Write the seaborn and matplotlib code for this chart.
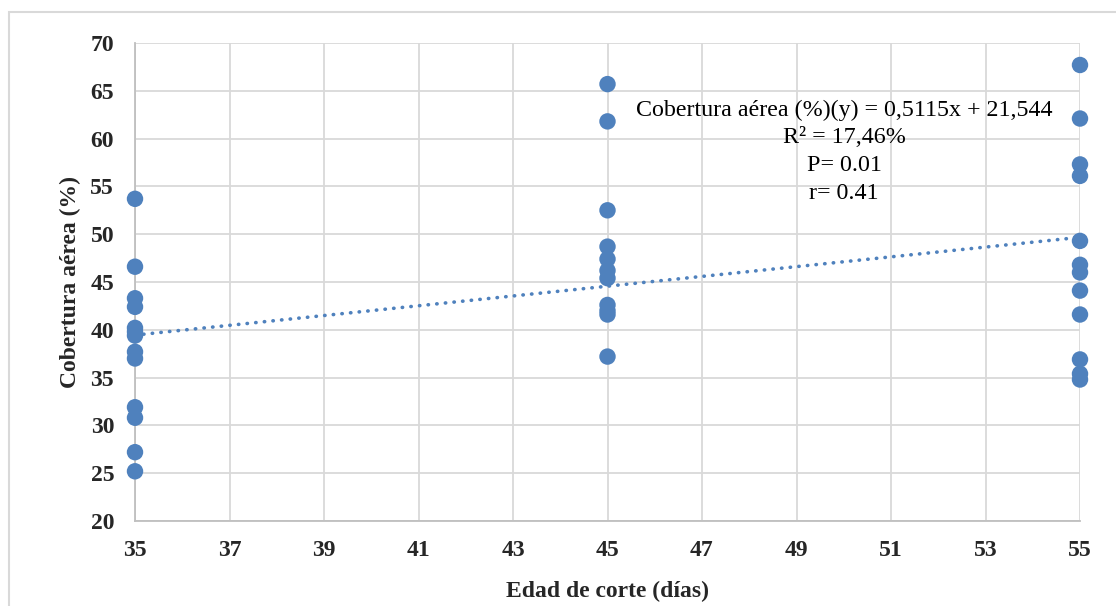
import numpy as np
import pandas as pd
import matplotlib.pyplot as plt
import seaborn as sns
from matplotlib.patches import Rectangle

# valores
edad_35 = [53.7, 46.6, 43.3, 42.4, 40.2, 39.8, 39.4, 37.7, 37.0, 31.9, 30.8, 27.2, 25.2]
edad_45 = [65.7, 61.8, 52.5, 48.7, 47.4, 46.2, 45.4, 42.6, 42.0, 41.6, 37.2]
edad_55 = [67.7, 62.1, 57.3, 56.1, 49.3, 46.8, 46.0, 44.1, 41.6, 36.9, 35.4, 34.8]
pendiente = 0.5115
intercepto = 21.544
x_ticks = list(range(35, 56, 2))
y_ticks = list(range(20, 71, 5))
etiquetas = ["Cobertura aérea (%)(y) = 0,5115x + 21,544", "R² = 17,46%", "P= 0.01", "r= 0.41"]

df = pd.DataFrame({
    'edad': [35] * len(edad_35) + [45] * len(edad_45) + [55] * len(edad_55),
    'cobertura': edad_35 + edad_45 + edad_55,
})
linea = pd.DataFrame({'edad': [35, 55]})
linea['cobertura'] = pendiente * linea['edad'] + intercepto

sns.set_theme(style='white')
plt.rcParams['font.family'] = ['Liberation Serif', 'DejaVu Serif']

azul = '#4F81BD'
gris = '#D9D9D9'

fig = plt.figure(figsize=(11.16, 6.06), dpi=100)
ax = fig.add_axes([135 / 1116, 1 - 521 / 606, (1080 - 135) / 1116, (521 - 43) / 606])

sns.lineplot(data=linea, x='edad', y='cobertura', ax=ax, color=azul, lw=2.6,
             linestyle=(0, (0.1, 2.3)), dash_capstyle='round', zorder=2)
sns.scatterplot(data=df, x='edad', y='cobertura', ax=ax, color=azul, s=140,
                edgecolor='none', zorder=3, clip_on=False)

ax.set_xlim(35, 55)
ax.set_ylim(20, 70)
ax.set_xticks(x_ticks)
ax.set_yticks(y_ticks)
ax.grid(True, color=gris, lw=1.3)
ax.set_axisbelow(True)
for s in ['top', 'right']:
    ax.spines[s].set_visible(False)
for s in ['left', 'bottom']:
    ax.spines[s].set_color('#BFBFBF')
    ax.spines[s].set_linewidth(1.3)
ax.tick_params(axis='y', length=0, labelsize=17, pad=15)
ax.tick_params(axis='x', length=0, labelsize=17, pad=14)
for t in ax.get_xticklabels() + ax.get_yticklabels():
    t.set_fontweight('bold')
ax.set_xlabel('Edad de corte (días)', fontsize=17, fontweight='bold', labelpad=14)
ax.set_ylabel('Cobertura aérea (%)', fontsize=17, fontweight='bold', labelpad=7)

for i, txt in enumerate(etiquetas):
    ax.text(844 / 1116, 1 - (110 + i * 27.7) / 606, txt, transform=fig.transFigure,
            ha='center', va='center', fontsize=17.3, color='black')

fig.patches.append(Rectangle((9 / 1116, -0.1), 1.2, 1 - 12 / 606 + 0.1,
                             transform=fig.transFigure, fill=False,
                             edgecolor=gris, lw=1.5))

fig.savefig('out.png', dpi=100, facecolor='white')
